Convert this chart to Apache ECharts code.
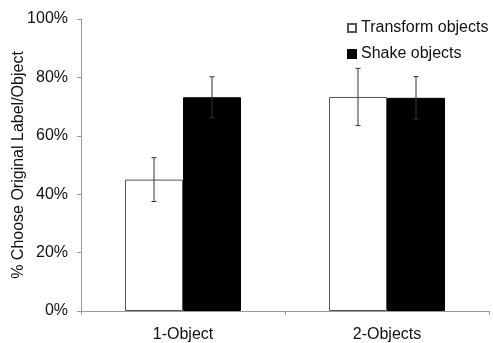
<!DOCTYPE html>
<html><head><meta charset="utf-8">
<script src="https://cdn.jsdelivr.net/npm/echarts@6/dist/echarts.min.js"></script>
<style>html,body{margin:0;padding:0;background:#fff}#c{width:493px;height:343px}</style>
</head><body><div id="c"></div>
<script>
const categories = ['1-Object', '2-Objects'];
const transformValues = [45, 73.3];
const transformErr = [7.5, 9.8];
const shakeValues = [73.2, 73];
const shakeErr = [7, 7.3];
const yTicks = [0, 20, 40, 60, 80, 100];

const chart = echarts.init(document.getElementById('c'));
const font = 'Liberation Sans, Arial, sans-serif';
function errSeries(name, vals, errs, offset) {
  return {
    type: 'custom', name: name + ' err', silent: true, z: 5,
    data: vals.map((v, i) => [i, v - errs[i], v + errs[i]]),
    renderItem: function (params, api) {
      const lo = api.coord([api.value(0), api.value(1)]);
      const hi = api.coord([api.value(0), api.value(2)]);
      const x = lo[0] + offset;
      const c = 2.5;
      const st = { stroke: '#333', lineWidth: 1 };
      return { type: 'group', children: [
        { type: 'line', shape: { x1: x, y1: lo[1], x2: x, y2: hi[1] }, style: st },
        { type: 'line', shape: { x1: x - c, y1: lo[1], x2: x + c, y2: lo[1] }, style: st },
        { type: 'line', shape: { x1: x - c, y1: hi[1], x2: x + c, y2: hi[1] }, style: st }
      ]};
    }
  };
}
chart.setOption({
  animation: false,
  textStyle: { fontFamily: font },
  grid: { left: 81, right: 4, top: 19, bottom: 32, containLabel: false, outerBoundsMode: 'none' },
  legend: {
    orient: 'vertical', left: 342, top: 15, itemWidth: 8, itemHeight: 8, itemGap: 10,
    data: ['Transform objects', 'Shake objects'],
    textStyle: { fontSize: 16, color: '#111', fontFamily: font },
    icon: 'rect'
  },
  xAxis: {
    type: 'category', data: categories,
    axisLine: { lineStyle: { color: '#999' } },
    axisTick: { show: true, length: 4, lineStyle: { color: '#999' } },
    axisLabel: { fontSize: 16, color: '#111', margin: 16 }
  },
  yAxis: {
    type: 'value', min: 0, max: 100, interval: 20,
    name: '% Choose Original Label/Object', nameLocation: 'middle', nameGap: 54,
    nameMoveOverlap: false,
    nameTextStyle: { fontSize: 16, color: '#111' },
    axisLine: { show: true, lineStyle: { color: '#999' } },
    axisTick: { show: true, length: 4, lineStyle: { color: '#999' } },
    splitLine: { show: false },
    axisLabel: { fontSize: 16, color: '#111', margin: 13, formatter: v => yTicks.includes(v) ? v + '%' : '' }
  },
  series: [
    { type: 'bar', name: 'Transform objects', data: transformValues, barWidth: 58, barGap: '0%',
      itemStyle: { color: '#fff', borderColor: '#555', borderWidth: 1 } },
    { type: 'bar', name: 'Shake objects', data: shakeValues, barWidth: 58, barGap: '0%',
      itemStyle: { color: '#000', borderColor: '#000', borderWidth: 1 } },
    errSeries('Transform objects', transformValues, transformErr, -29),
    errSeries('Shake objects', shakeValues, shakeErr, 29)
  ]
});
</script></body></html>
